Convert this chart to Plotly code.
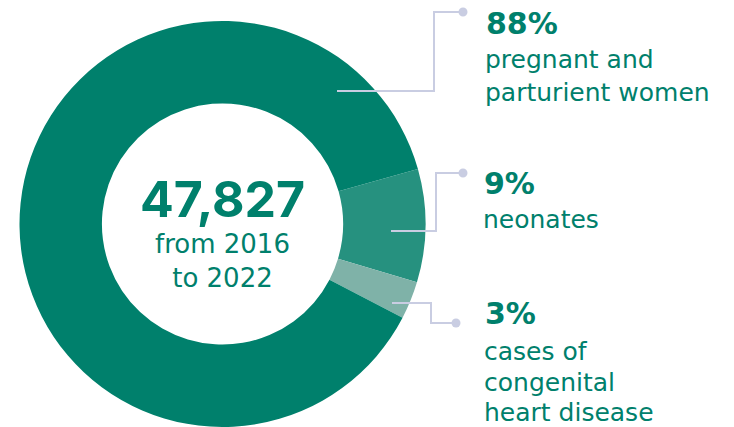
import plotly.graph_objects as go

# ---- data ----
labels = ["neonates", "cases of congenital heart disease", "pregnant and parturient women"]
values = [9, 3, 88]
pct_labels = ["9%", "3%", "88%"]
desc_lines = [["neonates"], ["cases of", "congenital", "heart disease"], ["pregnant and", "parturient women"]]
total_value = "47,827"
total_sub = "from 2016<br>to 2022"

colors = ["#26917F", "#7FB2A8", "#00806C"]
TEXT = "#00806C"
LINE = "#C9CDE2"
W, H = 734, 427

def px(x):
    return x / W

def py(y):
    return 1 - y / H

fig = go.Figure()
fig.add_trace(go.Pie(
    labels=labels, values=values, sort=False, direction="clockwise",
    rotation=74.3, hole=0.594, textinfo="none", hoverinfo="label+percent",
    marker=dict(colors=colors, line=dict(width=0)),
    domain=dict(x=[px(19.5), px(425.5)], y=[0, py(21)]),
    showlegend=False,
))

annotations = []
# centre
annotations.append(dict(text="<b>" + total_value + "</b>", x=px(222), y=py(167),
                        xref="paper", yref="paper", xanchor="center", yanchor="top",
                        showarrow=False, font=dict(family="Inter", size=50, color=TEXT)))
annotations.append(dict(text=total_sub, x=px(222), y=py(227), xref="paper", yref="paper",
                        xanchor="center", yanchor="top", showarrow=False,
                        font=dict(family="DejaVu Sans", size=26, color=TEXT)))

# leader-line layout (pixel positions): start point, elbow x, dot point
leaders = [
    ((337, 91), 434, (463, 12)),
    ((391, 231), 436, (463, 173)),
    ((392, 303), 431, (456, 323)),
]
# (x, y_top of pct, y_top of first desc line, line pitch) for slices in order
text_pos = [
    (482, 164, 203, 32),
    (483, 294, 335, 30.5),
    (484, 4, 43, 32.5),
]

shapes = []
for (s, ex, d) in leaders:
    path = f"M {px(s[0])},{py(s[1])} L {px(ex)},{py(s[1])} L {px(ex)},{py(d[1])} L {px(d[0])},{py(d[1])}"
    shapes.append(dict(type="path", path=path, xref="paper", yref="paper",
                       line=dict(color=LINE, width=2)))
    r = 4.5
    shapes.append(dict(type="circle", xref="paper", yref="paper",
                       x0=px(d[0] - r), x1=px(d[0] + r), y0=py(d[1] + r), y1=py(d[1] - r),
                       fillcolor=LINE, line=dict(width=0)))

for i in range(len(labels)):
    x, yp, yd, pitch = text_pos[i]
    annotations.append(dict(text="<b>" + pct_labels[i] + "</b>", x=px(x), y=py(yp),
                            xref="paper", yref="paper", xanchor="left", yanchor="top",
                            showarrow=False, align="left",
                            font=dict(family="DejaVu Sans", size=30, color=TEXT)))
    for j, line in enumerate(desc_lines[i]):
        annotations.append(dict(text=line, x=px(x), y=py(yd + j * pitch + 1),
                                xref="paper", yref="paper", xanchor="left", yanchor="top",
                                showarrow=False, align="left", borderpad=0,
                                font=dict(family="DejaVu Sans", size=25, color=TEXT)))

fig.update_layout(
    width=W, height=H, margin=dict(l=0, r=0, t=0, b=0),
    paper_bgcolor="white", plot_bgcolor="white",
    annotations=annotations, shapes=shapes,
)
fig.write_html("out.html")
